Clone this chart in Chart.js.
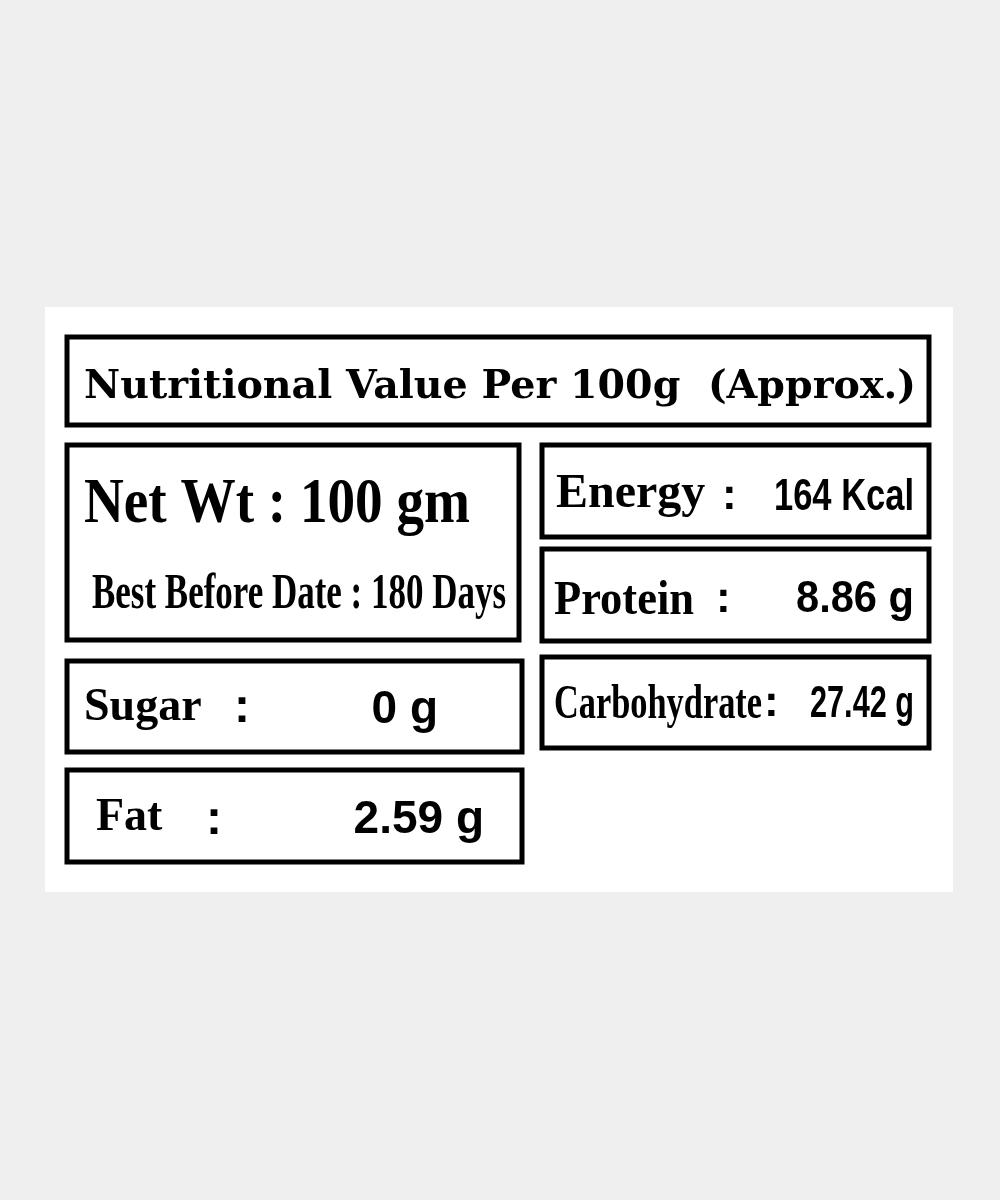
<!DOCTYPE html>
<html><head><meta charset="utf-8">
<script src="https://cdn.jsdelivr.net/npm/chart.js@4"></script>
<style>html,body{margin:0;padding:0;background:#efefef}#wrap{width:1000px;height:1200px}</style>
</head><body><div id="wrap"><canvas id="c"></canvas></div>
<script>
const title = "Nutritional Value Per 100g  (Approx.)";
const netWt = "Net Wt : 100 gm";
const bestBefore = "Best Before Date : 180 Days";
const leftLabels = ["Sugar", "Fat"];
const leftValues = ["0 g", "2.59 g"];
const rightLabels = ["Energy", "Protein", "Carbohydrate"];
const rightValues = ["164 Kcal", "8.86 g", "27.42 g"];

const panel = [45,307,953,892];
const titleBox = [67,337,929,425];
const netBox = [67,445,519,640];
const leftBoxes = [[67,661,522,752],[67,770,522,862]];
const rightBoxes = [[542,445,929,537],[542,549,929,641],[542,657,929,748]];

const plugin = {
  id:'label',
  afterDraw(chart){
    const ctx = chart.ctx, xs = chart.scales.x, ys = chart.scales.y;
    const X = v => xs.getPixelForValue(v), Y = v => ys.getPixelForValue(v);
    ctx.save();
    ctx.fillStyle='#fff';
    ctx.fillRect(X(panel[0]),Y(panel[1]),X(panel[2])-X(panel[0]),Y(panel[3])-Y(panel[1]));
    ctx.strokeStyle='#000'; ctx.lineWidth=5;
    const box=b=>ctx.strokeRect(X(b[0]),Y(b[1]),X(b[2])-X(b[0]),Y(b[3])-Y(b[1]));
    [titleBox,netBox,...leftBoxes,...rightBoxes].forEach(box);
    ctx.fillStyle='#000'; ctx.textBaseline='alphabetic';
    const txt=(s,x,y,font,maxW,align)=>{ctx.font=font;ctx.textAlign=align||'left';
      if(maxW) ctx.fillText(s,X(x),Y(y),maxW); else ctx.fillText(s,X(x),Y(y));};
    txt(title,84,398,"bold 40px 'DejaVu Serif'",832);
    txt(netWt,84,522,"bold 64px 'Liberation Serif'",386);
    txt(bestBefore,92,608,"bold 50px 'Liberation Serif'",414);
    const lx=[84,96], colon=[[234,722],[206,834]], vx=[438,484], ly=[720,830];
    leftLabels.forEach((l,i)=>{
      txt(l,lx[i],ly[i],"bold 46px 'Liberation Serif'");
      txt(":",colon[i][0],colon[i][1],"bold 48px 'Liberation Sans'");
      txt(leftValues[i],vx[i],ly[i]+3,"bold 46px 'Liberation Sans'",null,'right');
    });
    const rl=[[556,507,158],[554,614,140],[554,718,208]];
    const rc=[[722,509],[716,612],[764,716]];
    const rvY=[510,612,717], rvW=[140,118,104];
    rightLabels.forEach((l,i)=>{
      txt(l,rl[i][0],rl[i][1],"bold 48px 'Liberation Serif'",rl[i][2]);
      txt(":",rc[i][0],rc[i][1],"bold 44px 'Liberation Sans'");
      txt(rightValues[i],914,rvY[i],"bold 44px 'Liberation Sans'",rvW[i],'right');
    });
    ctx.restore();
  }
};

new Chart(document.getElementById('c'),{
  type:'scatter',
  data:{datasets:[{data:[],showLine:false}]},
  options:{responsive:true,maintainAspectRatio:false,animation:false,
    layout:{padding:0},
    plugins:{legend:{display:false},tooltip:{enabled:false}},
    scales:{x:{type:'linear',min:0,max:1000,display:false},
            y:{type:'linear',min:0,max:1200,reverse:true,display:false}}},
  plugins:[plugin]
});
</script></body></html>
